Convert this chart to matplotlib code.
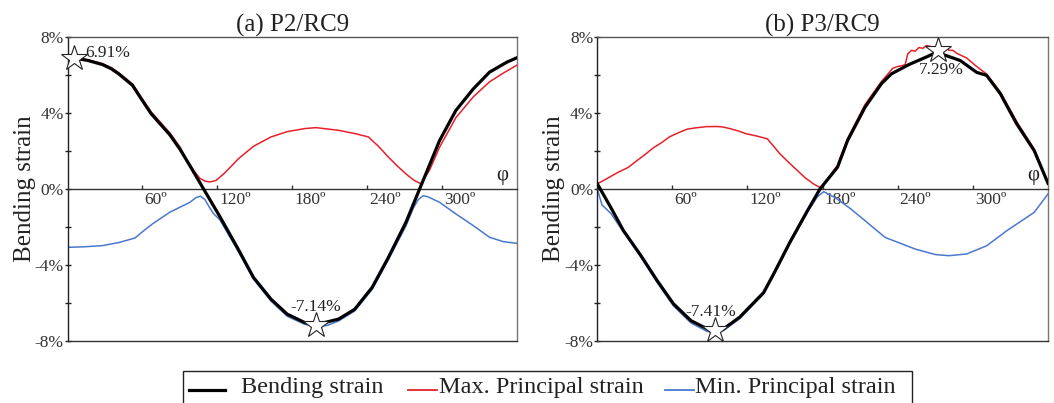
import matplotlib
matplotlib.use("Agg")
import matplotlib.pyplot as plt
from matplotlib.lines import Line2D
from matplotlib.patches import Rectangle
from matplotlib.transforms import ScaledTranslation

plt.rcParams['font.family'] = ['Liberation Serif', 'DejaVu Serif']

# ---------------- data ----------------
# (a) P2/RC9
a_bend_deg = [0, 8, 16, 28, 35, 41, 52, 59, 67, 82, 90, 98, 109, 122, 136, 149, 163, 176,
              190, 199, 217, 230, 244, 257, 271, 282, 298, 311, 325, 338, 352, 360]
a_bend = [6.91, 6.86, 6.77, 6.55, 6.33, 6.06, 5.46, 4.75, 3.96, 2.85, 2.10, 1.23, 0.00,
          -1.45, -3.08, -4.66, -5.80, -6.59, -7.03, -7.14, -6.85, -6.33, -5.18, -3.60,
          -1.76, 0.00, 2.55, 4.13, 5.27, 6.15, 6.68, 6.91]

a_max_deg = [0, 8, 16, 28, 35, 41, 52, 59, 67, 82, 90, 95, 101, 106, 110, 114, 119, 126,
             137, 149, 163, 176, 190, 199, 217, 230, 241, 249, 257, 264, 271, 277, 283,
             290, 298, 311, 325, 338, 349, 360]
a_max = [6.91, 6.88, 6.80, 6.60, 6.39, 6.12, 5.53, 4.84, 4.06, 2.95, 2.22, 1.60, 0.98,
         0.56, 0.42, 0.37, 0.45, 0.85, 1.60, 2.25, 2.74, 3.02, 3.18, 3.23, 3.09, 2.92,
         2.74, 2.25, 1.68, 1.22, 0.80, 0.48, 0.27, 1.00, 2.20, 3.75, 4.85, 5.64, 6.10, 6.52]

a_min_deg = [0, 14, 28, 41, 54, 61, 68, 82, 90, 98, 103, 106.5, 110, 114, 117, 122, 136,
             149, 163, 176, 190, 199, 208, 217, 230, 244, 257, 271, 277, 281, 285, 289,
             298, 311, 325, 338, 349, 360]
a_min = [-3.07, -3.04, -2.98, -2.82, -2.58, -2.20, -1.84, -1.22, -0.96, -0.70, -0.45,
         -0.38, -0.55, -1.00, -1.30, -1.62, -3.20, -4.75, -5.90, -6.70, -7.12, -7.24,
         -7.18, -6.95, -6.42, -5.28, -3.72, -1.95, -1.00, -0.55, -0.35, -0.42, -0.70,
         -1.31, -1.93, -2.54, -2.77, -2.86]

# (b) P3/RC9
b_bend_deg = [0, 11, 21, 35, 48, 61, 75, 88, 94, 101, 114, 133, 141, 154, 168, 178, 192,
              200, 214, 227, 235, 249, 263, 271, 290, 303, 311, 322, 335, 349, 360]
b_bend = [0.30, -0.97, -2.18, -3.50, -4.82, -6.04, -6.93, -7.36, -7.41, -7.36, -6.74,
          -5.45, -4.47, -2.80, -1.14, 0.00, 1.15, 2.55, 4.31, 5.54, 6.06, 6.55, 6.95, 7.20,
          6.76, 6.14, 5.98, 5.01, 3.43, 2.02, 0.30]

b_max_deg = [0, 8, 16, 25, 32, 39, 45, 52, 58, 66, 72, 79, 87, 95, 100, 106, 113, 119, 128,
             136, 141, 146, 153, 160, 166, 173, 178, 181, 192, 200, 214, 227, 236, 240, 244,
             246, 248, 251, 254, 257, 260, 263, 266, 269, 272, 275, 278, 281, 284, 287, 290,
             295, 303, 311, 322, 335, 349, 360]
b_max = [0.26, 0.55, 0.85, 1.14, 1.50, 1.85, 2.17, 2.46, 2.75, 2.99, 3.15, 3.22, 3.28, 3.29,
         3.27, 3.18, 3.05, 2.91, 2.78, 2.64, 2.25, 1.85, 1.40, 0.97, 0.60, 0.26, 0.08, 0.25,
         1.25, 2.65, 4.45, 5.65, 6.35, 6.45, 6.50, 6.55, 7.10, 7.30, 7.25, 7.45, 7.40, 7.55,
         7.50, 7.45, 7.50, 7.40, 7.45, 7.30, 7.30, 7.15, 7.05, 6.90, 6.45, 6.05, 5.10, 3.55,
         2.10, 0.30]

b_min_deg = [0, 4, 11, 21, 35, 48, 61, 75, 88, 94, 101, 114, 133, 141, 154, 168, 176, 181,
             190, 202, 214, 230, 254, 270, 281, 295, 311, 327, 349, 360]
b_min = [0.05, -0.84, -1.28, -2.25, -3.58, -4.92, -6.15, -7.05, -7.50, -7.53, -7.45,
         -6.82, -5.52, -4.55, -2.88, -1.22, -0.40, -0.14, -0.45, -1.02, -1.67, -2.55,
         -3.16, -3.45, -3.51, -3.42, -2.99, -2.20, -1.23, -0.26]

# marked extremes: (angle, value, label)
a_stars_deg = [5.5, 199]
a_stars_val = [6.91, -7.14]
a_stars_lbl = ['6.91%', '-7.14%']
b_stars_deg = [272, 94]
b_stars_val = [7.29, -7.41]
b_stars_lbl = ['7.29%', '-7.41%']

x_ticks = [60, 120, 180, 240, 300]
x_ticklabels = ['60º', '120º', '180º', '240º', '300º']
y_ticks = [-8, -4, 0, 4, 8]
y_ticklabels = ['-8%', '-4%', '0%', '4%', '8%']
y_minor = [-6, -2, 2, 6]

titles = ['(a) P2/RC9', '(b) P3/RC9']
series_names = ['Bending strain', 'Max. Principal strain', 'Min. Principal strain']

BLACK = '#000000'
RED = '#e8202a'
BLUE = '#4a78cf'

W, H = 1054, 403
fig = plt.figure(figsize=(W / 100, H / 100), dpi=100)


def px_rect(x0, y0, x1, y1):
    return [x0 / W, 1 - y1 / H, (x1 - x0) / W, (y1 - y0) / H]


ax_a = fig.add_axes(px_rect(67.5, 37, 517, 341))
ax_b = fig.add_axes(px_rect(597, 37, 1048, 341))

panels = [
    (ax_a, a_bend_deg, a_bend, a_max_deg, a_max, a_min_deg, a_min,
     a_stars_deg, a_stars_val, a_stars_lbl, [(11, 5, 'left'), (0, 18, 'center')]),
    (ax_b, b_bend_deg, b_bend, b_max_deg, b_max, b_min_deg, b_min,
     b_stars_deg, b_stars_val, b_stars_lbl, [(4, -20, 'center'), (-4, 18, 'center')]),
]

for i, (ax, bd, bv, md, mv, nd, nv, sd, sv, sl, offs) in enumerate(panels):
    ax.plot(nd, nv, color=BLUE, lw=1.1, zorder=2)
    ax.plot(md, mv, color=RED, lw=1.1, zorder=3)
    ax.plot(bd, bv, color=BLACK, lw=2.3, zorder=4, solid_joinstyle='round')
    ax.plot(sd, sv, linestyle='none', marker='*', markersize=19, mfc='white',
            mec='#222222', mew=0.8, zorder=6, clip_on=False)
    for d, v, lbl, (dx, dy, ha) in zip(sd, sv, sl, offs):
        ax.annotate(lbl, (d, v), xytext=(dx, dy), textcoords='offset pixels',
                    ha=ha, va='center', fontsize=12.5, color='#222222', zorder=7)

    ax.set_xlim(0, 360)
    ax.set_ylim(-8, 8)

    # frame
    for s in ['left', 'top', 'right']:
        ax.spines[s].set_linewidth(1.0)
    ax.spines['left'].set_color('#222222')
    ax.spines['top'].set_color('#555555')
    ax.spines['right'].set_color('#777777')
    ax.spines['bottom'].set_position(('data', 0))
    ax.spines['bottom'].set_color('#333333')
    ax.spines['bottom'].set_linewidth(1.0)
    ax.plot([0, 1], [0, 0], transform=ax.transAxes, color='#333333', lw=1.0,
            clip_on=False, zorder=5)

    ax.set_xticks(x_ticks)
    ax.set_xticklabels(x_ticklabels)
    ax.tick_params(axis='x', direction='in', length=3, width=1.0, pad=2.5,
                   labelsize=12.5, colors='#333333', labelcolor='#333333')
    offset = ScaledTranslation(1.5 / 72, 0, fig.dpi_scale_trans)
    for lab in ax.get_xticklabels():
        lab.set_ha('left')
        lab.set_transform(lab.get_transform() + offset)

    ax.set_yticks(y_ticks)
    ax.set_yticklabels(y_ticklabels)
    ax.set_yticks(y_minor, minor=True)
    ax.tick_params(axis='y', which='both', direction='inout', length=4.5, width=1.0,
                   pad=0.5, labelsize=12.5, colors='#222222', labelcolor='#333333')

    ax.set_ylabel(series_names[0], fontsize=18, va='center', color='#222222')
    ax.yaxis.set_label_coords(-0.095, 0.5)
    ax.set_title(titles[i], fontsize=18, pad=4, color='#222222')
    ax.text(0.967, 0.545, 'φ', transform=ax.transAxes, ha='center', va='center',
            fontsize=15, color='#222222')

# ---------------- legend (drawn in figure pixels) ----------------
leg_box = Rectangle((183 / W, -0.02), (912 - 183) / W, 0.02 + (1 - 371 / H),
                    transform=fig.transFigure, fill=False, edgecolor='#222222', lw=1.0,
                    clip_on=False)
fig.add_artist(leg_box)
leg_items = [
    (BLACK, 2.3, 189, 225, 241, series_names[0]),
    (RED, 1.3, 408, 437, 439, series_names[1]),
    (BLUE, 1.3, 665, 694, 695, series_names[2]),
]
ly = 1 - 390 / H
for col, lw, x0, x1, tx, name in leg_items:
    fig.add_artist(Line2D([x0 / W, x1 / W], [ly, ly], transform=fig.transFigure,
                          color=col, lw=lw))
    fig.text(tx / W, 1 - 388 / H, name, ha='left', va='center', fontsize=17.5,
             color='#222222')

fig.savefig('out.png', dpi=100)
